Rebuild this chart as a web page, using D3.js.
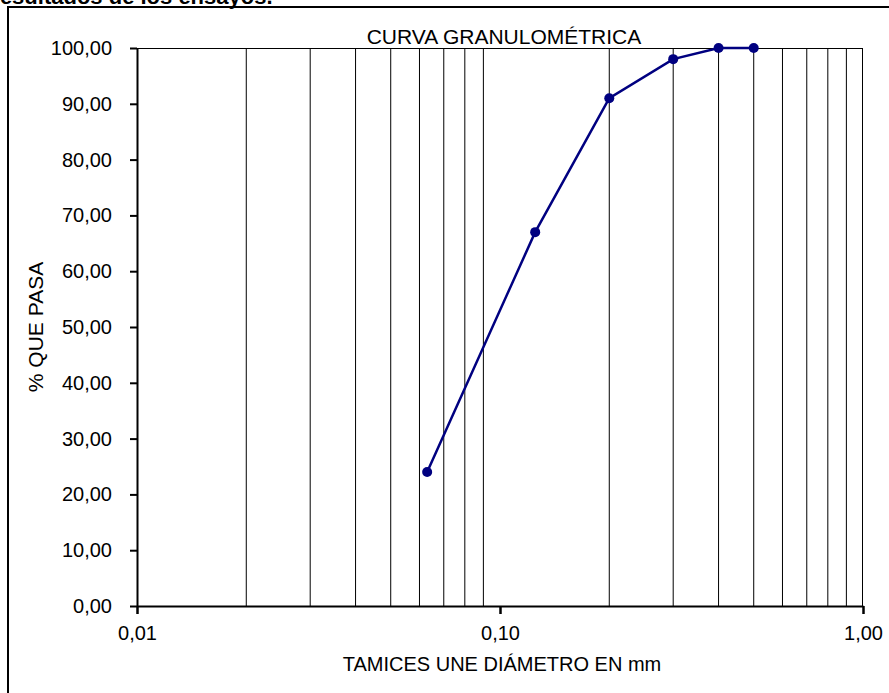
<!DOCTYPE html>
<html>
<head>
<meta charset="utf-8">
<script src="https://cdn.jsdelivr.net/npm/d3@7/dist/d3.min.js"></script>
<style>
  html, body { margin: 0; padding: 0; background: #fff; }
  svg { display: block; }
  text { font-family: "Liberation Sans", Arial, sans-serif; fill: #000; }
</style>
</head>
<body>
<svg id="chart" width="889" height="693"></svg>
<script>
// ---- data ----
const sieveSizes = [0.063, 0.125, 0.2, 0.3, 0.4, 0.5];
const percentPassing = [24, 67, 91, 98, 100, 100];
const xTickValues = [0.01, 0.1, 1];
const xTickLabels = ["0,01", "0,10", "1,00"];
const yTickValues = [0, 10, 20, 30, 40, 50, 60, 70, 80, 90, 100];
const gridValues = [0.02, 0.03, 0.04, 0.05, 0.06, 0.07, 0.08, 0.09,
                    0.2, 0.3, 0.4, 0.5, 0.6, 0.7, 0.8, 0.9];
const chartTitle = "CURVA GRANULOMÉTRICA";
const xTitle = "TAMICES UNE DIÁMETRO EN mm";
const yTitle = "% QUE PASA";
const headerText = "Resultados de los ensayos.";

const svg = d3.select("#chart");
const W = 889, H = 693;
const pLeft = 137, pRight = 863, pTop = 48, pBottom = 606;

// header text (cut off at top, as in the source page)
svg.append("text")
  .attr("x", -16).attr("y", 4)
  .attr("font-weight", "bold")
  .attr("font-size", 22)
  .text(headerText);

// outer frame
svg.append("rect")
  .attr("x", 8).attr("y", 7)
  .attr("width", W + 20).attr("height", H + 20)
  .attr("fill", "none").attr("stroke", "#000").attr("stroke-width", 2);

const x = d3.scaleLog().domain([0.01, 1]).range([pLeft, pRight]);
const y = d3.scaleLinear().domain([0, 100]).range([pBottom, pTop]);

// vertical grid lines
svg.append("g").selectAll("line").data(gridValues).join("line")
  .attr("x1", d => x(d)).attr("x2", d => x(d))
  .attr("y1", pTop).attr("y2", pBottom)
  .attr("stroke", "#000").attr("stroke-width", 1);

// plot frame top & right
svg.append("line").attr("x1", pLeft).attr("x2", pRight).attr("y1", pTop + 0.5).attr("y2", pTop + 0.5)
  .attr("stroke", "#000").attr("stroke-width", 1);
svg.append("line").attr("x1", pRight - 0.5).attr("x2", pRight - 0.5).attr("y1", pTop).attr("y2", pBottom)
  .attr("stroke", "#000").attr("stroke-width", 1);

// x axis
const xAxis = d3.axisBottom(x)
  .tickValues(xTickValues)
  .tickFormat((d, i) => xTickLabels[i])
  .tickSizeInner(8).tickSizeOuter(0).tickPadding(12);
const gx = svg.append("g").attr("transform", `translate(0,${pBottom})`).call(xAxis);
gx.select(".domain").attr("stroke", "#000").attr("stroke-width", 2);
gx.selectAll(".tick line").attr("stroke", "#000").attr("stroke-width", 2.5);
gx.selectAll(".tick text").attr("font-size", 20).attr("font-family", "Liberation Sans, Arial, sans-serif").attr("fill", "#000");

// y axis
const yAxis = d3.axisLeft(y)
  .tickValues(yTickValues)
  .tickFormat(d => d3.format(".2f")(d).replace(".", ","))
  .tickSizeInner(7).tickSizeOuter(0).tickPadding(18);
const gy = svg.append("g").attr("transform", `translate(${pLeft},0)`).call(yAxis);
gy.select(".domain").attr("stroke", "#000").attr("stroke-width", 2);
gy.selectAll(".tick line").attr("stroke", "#000").attr("stroke-width", 2);
gy.selectAll(".tick text").attr("font-size", 20).attr("font-family", "Liberation Sans, Arial, sans-serif").attr("fill", "#000");

// titles
svg.append("text").attr("x", 504).attr("y", 44).attr("text-anchor", "middle")
  .attr("font-size", 21).text(chartTitle);
svg.append("text").attr("x", 502).attr("y", 671).attr("text-anchor", "middle")
  .attr("font-size", 20).text(xTitle);
svg.append("text").attr("transform", "translate(43,327) rotate(-90)").attr("text-anchor", "middle")
  .attr("font-size", 21).text(yTitle);

// data line
const pts = sieveSizes.map((s, i) => [s, percentPassing[i]]);
svg.append("path").datum(pts)
  .attr("d", d3.line().x(d => x(d[0])).y(d => y(d[1])))
  .attr("fill", "none").attr("stroke", "#000080").attr("stroke-width", 2.5);
svg.append("g").selectAll("circle").data(pts).join("circle")
  .attr("cx", d => x(d[0])).attr("cy", d => y(d[1])).attr("r", 5)
  .attr("fill", "#000080");
</script>
</body>
</html>
